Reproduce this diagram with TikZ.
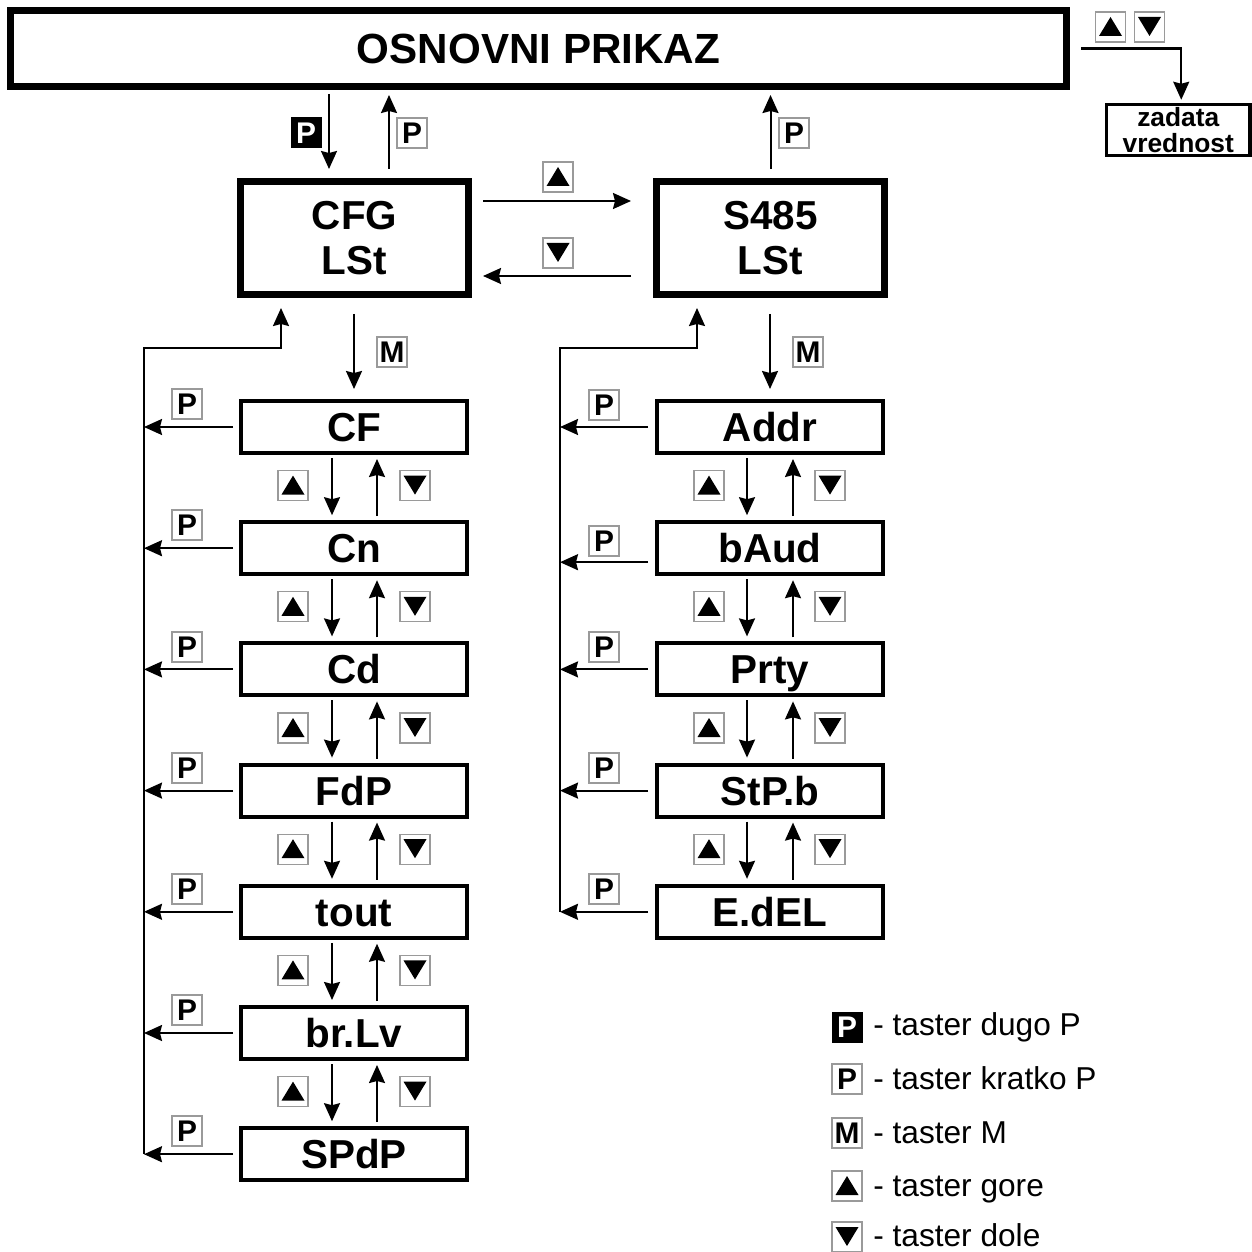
\documentclass[tikz,border=0pt]{standalone}
\usepackage{fontspec}
\setmainfont{Liberation Sans}
\usepackage{xcolor}
\usepackage{tikz}
\usetikzlibrary{arrows.meta,calc}
\definecolor{KeyEdge}{HTML}{9A9A9A}

\begin{document}
\begin{tikzpicture}[
  x=0.2mm,
  y=-0.2mm,
  every node/.style={inner sep=0pt},
  arr/.style={line width=1.15pt, -{Stealth[length=3.6mm,width=3.2mm,inset=0.4mm]}},
  mainbox/.style={draw, line width=0.14cm, minimum width=21.12cm, minimum height=1.52cm, text height=17.2pt, text depth=0pt, font=\fontsize{24}{28}\selectfont\bfseries},
  listbox/.style={draw, line width=0.14cm, minimum width=4.56cm, minimum height=2.26cm, align=center, font=\fontsize{23}{25.5}\selectfont\bfseries},
  itembox/.style={draw, line width=0.08cm, minimum width=4.52cm, minimum height=1.04cm, text height=16.5pt, text depth=0pt, font=\fontsize{23}{25.5}\selectfont\bfseries},
  valbox/.style={draw, line width=0.07cm, minimum width=2.87cm, minimum height=1.02cm, align=center, font=\fontsize{15}{14.5}\selectfont\bfseries},
  keybox/.style={draw=KeyEdge, line width=0.6pt, fill=white, minimum size=0.6cm, font=\fontsize{17}{17}\selectfont\bfseries},
  keylong/.style={fill=black, text=white, minimum size=0.62cm, font=\fontsize{17}{17}\selectfont\bfseries},
  keyup/.style={keybox, path picture={\fill[black] ($(path picture bounding box.center)+(-11.5,9)$) -- ++(23,0) -- ++(-11.5,-19) -- cycle;}},
  keydown/.style={keybox, path picture={\fill[black] ($(path picture bounding box.center)+(-11.5,-10)$) -- ++(23,0) -- ++(-11.5,19) -- cycle;}},
  legend/.style={anchor=base west, font=\fontsize{18}{20}\selectfont}
]
\useasboundingbox (0,0) rectangle (1252,1252);

\node[mainbox] (osn) at (538.5,48.5) {OSNOVNI PRIKAZ};
\node[valbox] (zad) at (1178.25,130) {zadata\\vrednost};
\node[keyup] (zup) at (1110.5,27) {};
\node[keydown] (zdown) at (1149.5,27) {};
\draw[arr] ($(osn.east)+(11,0)$) -| ($(zad.north)+(3,-3)$);

\node[listbox] (cfg) at (354.5,238) {CFG\\LSt};
\node[listbox] (s485) at (770.5,238) {S485\\LSt};

\draw[arr] ($(cfg.north |- osn.south)+(-25.5,4)$) -- ($(cfg.north)+(-25.5,-9)$);
\draw[arr] ($(cfg.north)+(34.5,-9)$) -- ($(cfg.north |- osn.south)+(34.5,5)$);
\node[keylong] (plong) at (306,133) {P};
\node[keybox] (pcfg) at (412,133) {P};
\draw[arr] ($(s485.north)+(0,-9)$) -- ($(s485.north |- osn.south)+(0,5)$);
\node[keybox] (ps485) at (794,133) {P};

\draw[arr] ($(cfg.east)+(11,-37)$) -- ($(s485.west)+(-22,-37)$);
\draw[arr] ($(s485.west)+(-22,38)$) -- ($(cfg.east)+(11,38)$);
\node[keyup] (uls) at (558,177) {};
\node[keydown] (dls) at (558,253) {};

\node[itembox] (cf) at (354,427) {CF};
\node[itembox] (cn) at (354,548.2) {Cn};
\node[itembox] (cd) at (354,669.4) {Cd};
\node[itembox] (fdp) at (354,790.6) {FdP};
\node[itembox] (tout) at (354,911.8) {tout};
\node[itembox] (brlv) at (354,1033) {br.Lv};
\node[itembox] (spdp) at (354,1154.2) {SPdP};

\node[itembox] (addr) at (770,427) {Addr};
\node[itembox] (baud) at (770,548.2) {bAud};
\node[itembox] (prty) at (770,669.4) {Prty};
\node[itembox] (stpb) at (770,790.6) {StP.b};
\node[itembox] (edel) at (770,911.8) {E.dEL};

\coordinate (lbus) at (144,348);
\coordinate (rbus) at (560,348);

\draw[arr] ($(cf.north |- cfg.south)+(0,16)$) -- ($(cf.north)+(0,-10)$);
\node[keybox] (mcfg) at (392,352) {M};
\draw[arr] (lbus |- spdp.west) -- (lbus) -| ($(cfg.south)+(-73.5,10)$);

\draw[arr] ($(addr.north |- s485.south)+(0,16)$) -- ($(addr.north)+(0,-10)$);
\node[keybox] (ms485) at (808,352) {M};
\draw[arr] (rbus |- edel.west) -- (rbus) -| ($(s485.south)+(-73.5,10)$);

\draw[arr] ($(cf.west)+(-6,0)$) -- (cf.west -| lbus);
\node[keybox] (pcf) at (187,404) {P};
\draw[arr] ($(cn.west)+(-6,0)$) -- (cn.west -| lbus);
\node[keybox] (pcn) at (187,525) {P};
\draw[arr] ($(cd.west)+(-6,0)$) -- (cd.west -| lbus);
\node[keybox] (pcd) at (187,647) {P};
\draw[arr] ($(fdp.west)+(-6,0)$) -- (fdp.west -| lbus);
\node[keybox] (pfdp) at (187,768) {P};
\draw[arr] ($(tout.west)+(-6,0)$) -- (tout.west -| lbus);
\node[keybox] (ptout) at (187,889) {P};
\draw[arr] ($(brlv.west)+(-6,0)$) -- (brlv.west -| lbus);
\node[keybox] (pbrlv) at (187,1010) {P};
\draw[arr] ($(spdp.west)+(-6,0)$) -- (spdp.west -| lbus);
\node[keybox] (pspdp) at (187,1131) {P};

\draw[arr] ($(addr.west)+(-7,0)$) -- (addr.west -| rbus);
\node[keybox] (paddr) at (604,405) {P};
\draw[arr] ($(baud.west)+(-7,14)$) -- ($(baud.west -| rbus)+(0,14)$);
\node[keybox] (pbaud) at (604,541) {P};
\draw[arr] ($(prty.west)+(-7,0)$) -- (prty.west -| rbus);
\node[keybox] (pprty) at (604,647) {P};
\draw[arr] ($(stpb.west)+(-7,0)$) -- (stpb.west -| rbus);
\node[keybox] (pstpb) at (604,768) {P};
\draw[arr] ($(edel.west)+(-7,0)$) -- (edel.west -| rbus);
\node[keybox] (pedel) at (604,889) {P};

\draw[arr] ($(cf.south)+(-22,3)$) -- ($(cn.north)+(-22,-5)$);
\draw[arr] ($(cn.north)+(23,-4)$) -- ($(cf.south)+(23,4)$);
\node[keyup] (ucf) at ($(cf.south)!0.5!(cn.north)+(-61,-2)$) {};
\node[keydown] (dcf) at ($(cf.south)!0.5!(cn.north)+(61,-2)$) {};
\draw[arr] ($(cn.south)+(-22,3)$) -- ($(cd.north)+(-22,-5)$);
\draw[arr] ($(cd.north)+(23,-4)$) -- ($(cn.south)+(23,4)$);
\node[keyup] (ucn) at ($(cn.south)!0.5!(cd.north)+(-61,-2)$) {};
\node[keydown] (dcn) at ($(cn.south)!0.5!(cd.north)+(61,-2)$) {};
\draw[arr] ($(cd.south)+(-22,3)$) -- ($(fdp.north)+(-22,-5)$);
\draw[arr] ($(fdp.north)+(23,-4)$) -- ($(cd.south)+(23,4)$);
\node[keyup] (ucd) at ($(cd.south)!0.5!(fdp.north)+(-61,-2)$) {};
\node[keydown] (dcd) at ($(cd.south)!0.5!(fdp.north)+(61,-2)$) {};
\draw[arr] ($(fdp.south)+(-22,3)$) -- ($(tout.north)+(-22,-5)$);
\draw[arr] ($(tout.north)+(23,-4)$) -- ($(fdp.south)+(23,4)$);
\node[keyup] (ufdp) at ($(fdp.south)!0.5!(tout.north)+(-61,-2)$) {};
\node[keydown] (dfdp) at ($(fdp.south)!0.5!(tout.north)+(61,-2)$) {};
\draw[arr] ($(tout.south)+(-22,3)$) -- ($(brlv.north)+(-22,-5)$);
\draw[arr] ($(brlv.north)+(23,-4)$) -- ($(tout.south)+(23,4)$);
\node[keyup] (utout) at ($(tout.south)!0.5!(brlv.north)+(-61,-2)$) {};
\node[keydown] (dtout) at ($(tout.south)!0.5!(brlv.north)+(61,-2)$) {};
\draw[arr] ($(brlv.south)+(-22,3)$) -- ($(spdp.north)+(-22,-5)$);
\draw[arr] ($(spdp.north)+(23,-4)$) -- ($(brlv.south)+(23,4)$);
\node[keyup] (ubrlv) at ($(brlv.south)!0.5!(spdp.north)+(-61,-2)$) {};
\node[keydown] (dbrlv) at ($(brlv.south)!0.5!(spdp.north)+(61,-2)$) {};

\draw[arr] ($(addr.south)+(-23,3)$) -- ($(baud.north)+(-23,-5)$);
\draw[arr] ($(baud.north)+(23,-4)$) -- ($(addr.south)+(23,4)$);
\node[keyup] (uaddr) at ($(addr.south)!0.5!(baud.north)+(-61,-2)$) {};
\node[keydown] (daddr) at ($(addr.south)!0.5!(baud.north)+(60,-2)$) {};
\draw[arr] ($(baud.south)+(-23,3)$) -- ($(prty.north)+(-23,-5)$);
\draw[arr] ($(prty.north)+(23,-4)$) -- ($(baud.south)+(23,4)$);
\node[keyup] (ubaud) at ($(baud.south)!0.5!(prty.north)+(-61,-2)$) {};
\node[keydown] (dbaud) at ($(baud.south)!0.5!(prty.north)+(60,-2)$) {};
\draw[arr] ($(prty.south)+(-23,3)$) -- ($(stpb.north)+(-23,-5)$);
\draw[arr] ($(stpb.north)+(23,-4)$) -- ($(prty.south)+(23,4)$);
\node[keyup] (uprty) at ($(prty.south)!0.5!(stpb.north)+(-61,-2)$) {};
\node[keydown] (dprty) at ($(prty.south)!0.5!(stpb.north)+(60,-2)$) {};
\draw[arr] ($(stpb.south)+(-23,3)$) -- ($(edel.north)+(-23,-5)$);
\draw[arr] ($(edel.north)+(23,-4)$) -- ($(stpb.south)+(23,4)$);
\node[keyup] (ustpb) at ($(stpb.south)!0.5!(edel.north)+(-61,-2)$) {};
\node[keydown] (dstpb) at ($(stpb.south)!0.5!(edel.north)+(60,-2)$) {};

\node[keylong] (leglong) at (847,1027) {P};
\node[legend] (legtlong) at (873,1035) {- taster dugo P};
\node[keybox] (legshort) at (847,1079) {P};
\node[legend] (legtshort) at (873,1089) {- taster kratko P};
\node[keybox] (legm) at (847,1133) {M};
\node[legend] (legtm) at (873,1143) {- taster M};
\node[keyup] (legup) at (847,1186) {};
\node[legend] (legtup) at (873,1196) {- taster gore};
\node[keydown] (legdown) at (847,1237) {};
\node[legend] (legtdown) at (873,1246) {- taster dole};
\end{tikzpicture}
\end{document}
